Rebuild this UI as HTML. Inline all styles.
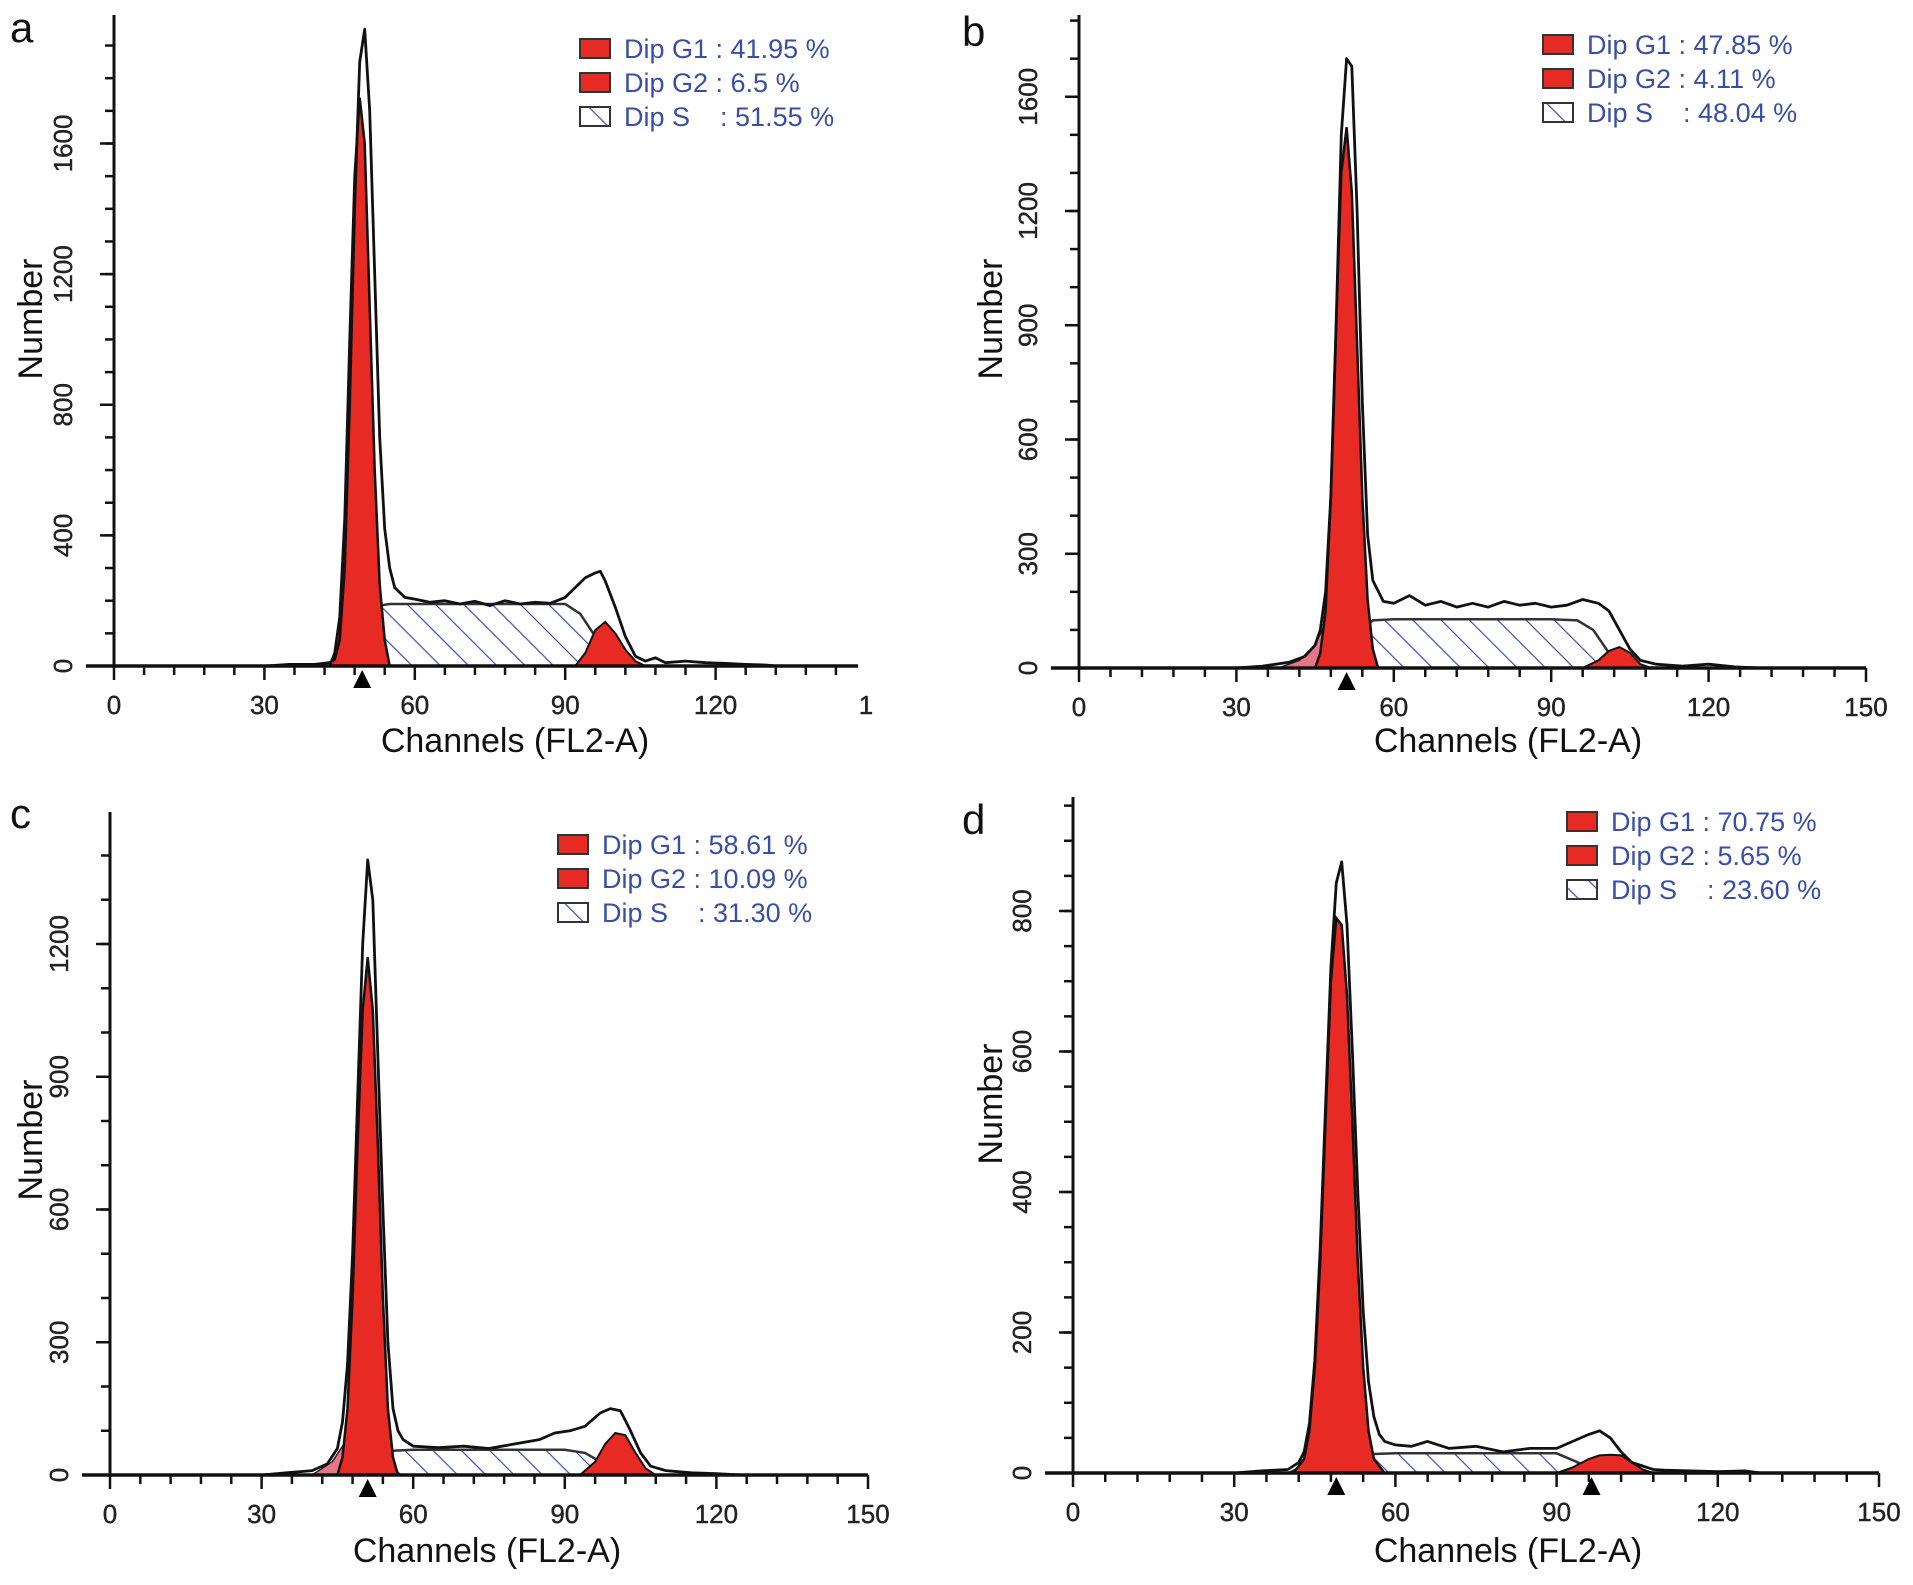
<!DOCTYPE html>
<html><head><meta charset="utf-8">
<style>
html,body{margin:0;padding:0;background:#fff;}
svg{display:block;}
text{font-family:"Liberation Sans",Arial,sans-serif;}
</style></head>
<body>
<svg id="fig" width="1913" height="1585" viewBox="0 0 1913 1585" xmlns="http://www.w3.org/2000/svg">
<defs>
<pattern id="hatch" patternUnits="userSpaceOnUse" width="20" height="20" patternTransform="rotate(-45)">
<rect width="20" height="20" fill="#fff"/>
<line x1="0" y1="0" x2="0" y2="20" stroke="#3d4fb0" stroke-width="2.4"/>
</pattern>
</defs>
</svg>
<script>
// ---- Panel a data ----
const aTotalX=[30,35,40,43,44,45,46,47,48,49,50,51,52,53,54,55,56,58,60,63,66,69,72,75,78,81,84,87,90,92,94,96,97,98,100,102,104,106,108,110,114,118,122,126,130,132];
const aTotalY=[0,5,5,10,20,80,300,800,1400,1850,1950,1700,1200,700,420,300,240,210,205,195,200,190,198,185,200,190,195,192,210,240,270,285,290,260,180,90,30,15,25,10,15,10,8,5,3,0];
const aG1X=[43,44,45,46,47,48,49,50,51,52,53,54,55];
const aG1Y=[0,40,150,450,1000,1500,1740,1600,1100,600,250,80,0];
const aSX=[45,47,50,53,55,60,70,80,90,93,96,99,102];
const aSY=[0,40,110,185,190,190,190,190,190,160,90,25,0];
const aG2X=[92,94,96,98,100,102,104,106];
const aG2Y=[0,40,110,135,100,50,15,0];
const aTicks=[0,400,800,1200,1600];
const aTickLabels=["0","400","800","1200","1600"];
const aXLabels=["0","30","60","90","120","1"];
const aLegend=["Dip G1 : 41.95 %","Dip G2 : 6.5 %","Dip S    : 51.55 %"];
const aMarkers=[49.5];
// ---- Panel b data ----
const bTotalX=[30,35,40,43,45,46,47,48,49,50,51,52,53,54,55,56,58,60,63,66,69,72,75,78,81,84,87,90,93,96,99,101,103,105,107,110,115,120,125,130];
const bTotalY=[0,5,15,30,60,100,200,450,900,1400,1600,1580,1200,700,350,230,175,170,190,165,175,160,170,160,175,165,170,160,165,180,170,150,100,50,20,10,5,10,3,0];
const bG1X=[45,46,47,48,49,50,51,52,53,54,55,56,57];
const bG1Y=[0,40,150,450,900,1300,1420,1250,850,450,180,50,0];
const bDebX=[38,42,45,47,48,49,50,51,52];
const bDebY=[0,20,60,120,150,140,90,30,0];
const bSX=[48,51,54,56,60,70,80,90,95,98,101,104];
const bSY=[0,40,100,125,128,128,128,128,125,100,40,0];
const bG2X=[96,99,101,103,105,107,109];
const bG2Y=[0,20,45,55,40,10,0];
const bTicks=[0,300,600,900,1200,1500];
const bTickLabels=["0","300","600","900","1200","1600"];
const bXLabels=["0","30","60","90","120","150"];
const bLegend=["Dip G1 : 47.85 %","Dip G2 : 4.11 %","Dip S    : 48.04 %"];
const bMarkers=[51];
// ---- Panel c data ----
const cTotalX=[30,35,40,43,45,46,47,48,49,50,51,52,53,54,55,56,57,58,60,65,70,75,80,85,88,91,94,97,99,101,103,105,107,110,115,120,125];
const cTotalY=[0,5,10,25,60,120,250,500,850,1200,1390,1300,950,600,300,150,100,80,65,62,65,60,70,80,95,100,110,140,150,145,100,50,20,10,5,3,0];
const cG1X=[45,46,47,48,49,50,51,52,53,54,55,56,57];
const cG1Y=[0,40,150,400,750,1050,1170,1050,750,400,150,40,0];
const cDebX=[40,44,46,47,48,49,50,51];
const cDebY=[0,30,65,75,70,50,20,0];
const cSX=[47,50,53,56,60,70,80,90,94,97,100];
const cSY=[0,15,40,55,57,57,57,57,50,30,0];
const cG2X=[93,96,98,100,102,104,106,108];
const cG2Y=[0,30,70,95,90,50,15,0];
const cTicks=[0,300,600,900,1200];
const cTickLabels=["0","300","600","900","1200"];
const cXLabels=["0","30","60","90","120","150"];
const cLegend=["Dip G1 : 58.61 %","Dip G2 : 10.09 %","Dip S    : 31.30 %"];
const cMarkers=[51];
// ---- Panel d data ----
const dTotalX=[30,35,40,42,43,44,45,46,47,48,49,50,51,52,53,54,55,56,57,58,60,63,66,70,75,80,85,90,93,96,98,100,102,104,106,108,110,115,120,125,128];
const dTotalY=[0,3,5,15,30,70,160,320,520,720,840,870,780,600,400,230,130,80,55,45,40,38,45,35,38,30,35,35,45,55,60,50,30,15,10,5,4,3,2,3,0];
const dG1X=[41,43,44,45,46,47,48,49,50,51,52,53,54,55,56,58];
const dG1Y=[0,20,60,150,300,500,700,790,780,680,500,300,150,60,20,0];
const dDebX=[40,43,45,46,47,48,50,52];
const dDebY=[0,12,22,25,24,18,5,0];
const dSX=[45,50,53,56,60,70,80,90,94,97];
const dSY=[0,10,20,27,28,28,28,28,15,0];
const dG2X=[90,93,96,98,100,102,104,106,108];
const dG2Y=[0,8,20,25,26,25,15,5,0];
const dTicks=[0,200,400,600,800];
const dTickLabels=["0","200","400","600","800"];
const dXLabels=["0","30","60","90","120","150"];
const dLegend=["Dip G1 : 70.75 %","Dip G2 : 5.65 %","Dip S    : 23.60 %"];
const dMarkers=[49,96.5];

const NS="http://www.w3.org/2000/svg";
const svg=document.getElementById('fig');
function mk(tag,attrs,parent){const e=document.createElementNS(NS,tag);for(const k in attrs)e.setAttribute(k,attrs[k]);(parent||svg).appendChild(e);return e;}

const panels=[
 {id:'a',letter:'a',lx:10,ly:42,x0:114,xEnd:858,x150:866,y0:666,top:15,vTop:1600,yTop:143.5,minorY:100,
  total:[aTotalX,aTotalY],g1:[aG1X,aG1Y],deb:null,s:[aSX,aSY],g2:[aG2X,aG2Y],ticks:aTicks,tl:aTickLabels,xl:aXLabels,leg:aLegend,mk:aMarkers,
  legX:580,legY:49,title:[515,752],num:[30,319]},
 {id:'b',letter:'b',lx:962,ly:46,x0:1079,xEnd:1866,x150:1866,y0:668,top:15,vTop:1200,yTop:211,minorY:100,
  total:[bTotalX,bTotalY],g1:[bG1X,bG1Y],deb:[bDebX,bDebY],s:[bSX,bSY],g2:[bG2X,bG2Y],ticks:bTicks,tl:bTickLabels,xl:bXLabels,leg:bLegend,mk:bMarkers,
  legX:1543,legY:45,title:[1508,752],num:[990,319]},
 {id:'c',letter:'c',lx:10,ly:828,x0:110,xEnd:868,x150:868,y0:1475,top:812,vTop:1200,yTop:944,minorY:100,
  total:[cTotalX,cTotalY],g1:[cG1X,cG1Y],deb:[cDebX,cDebY],s:[cSX,cSY],g2:[cG2X,cG2Y],ticks:cTicks,tl:cTickLabels,xl:cXLabels,leg:cLegend,mk:cMarkers,
  legX:558,legY:845,title:[487,1562],num:[30,1140]},
 {id:'d',letter:'d',lx:962,ly:834,x0:1073,xEnd:1879,x150:1879,y0:1473,top:797,vTop:800,yTop:911,minorY:50,
  total:[dTotalX,dTotalY],g1:[dG1X,dG1Y],deb:[dDebX,dDebY],s:[dSX,dSY],g2:[dG2X,dG2Y],ticks:dTicks,tl:dTickLabels,xl:dXLabels,leg:dLegend,mk:dMarkers,
  legX:1567,legY:822,title:[1508,1562],num:[990,1104]}
];

panels.forEach(p=>{
  const g=mk('g',{});
  
  
  const xs=c=>p.x0+c*(p.x150-p.x0)/150;
  const ys=v=>p.y0-v*(p.y0-p.yTop)/p.vTop;
  const pts=(X,Y)=>X.map((x,i)=>xs(x).toFixed(1)+','+ys(Y[i]).toFixed(1)).join(' ');
  const area=(X,Y)=>'M'+xs(X[0]).toFixed(1)+','+ys(0).toFixed(1)+' L'+pts(X,Y)+' L'+xs(X[X.length-1]).toFixed(1)+','+ys(0).toFixed(1)+' Z';

  if(p.deb){
    const e=mk('path',{d:area(p.deb[0],p.deb[1]),fill:'#e25d72','fill-opacity':'0.85',stroke:'#222','stroke-width':'1.5'},g);
    
    
  }
  const s=mk('path',{d:area(p.s[0],p.s[1]),fill:'url(#hatch)',stroke:'#333','stroke-width':'2.5'},g);
  
  
  const g1=mk('path',{d:area(p.g1[0],p.g1[1]),fill:'#e82a24',stroke:'#111','stroke-width':'2.5'},g);
  
  
  const g2=mk('path',{d:area(p.g2[0],p.g2[1]),fill:'#e82a24',stroke:'#111','stroke-width':'2'},g);
  
  
  const t=mk('polyline',{points:pts(p.total[0],p.total[1]),fill:'none',stroke:'#111','stroke-width':'2.8','stroke-linejoin':'round'},g);
  
  

  const ya=mk('line',{x1:p.x0,y1:p.top,x2:p.x0,y2:p.y0+2,stroke:'#111','stroke-width':'3'},g);
  
  
  const xa=mk('line',{x1:p.x0-28,y1:p.y0,x2:p.xEnd,y2:p.y0,stroke:'#111','stroke-width':'3.5'},g);
  
  
  for(let c=0;c<=150;c+=6){
    const major=c%30===0;
    if(xs(c)>p.xEnd+1)continue;
    mk('line',{x1:xs(c),y1:p.y0,x2:xs(c),y2:p.y0+(major?14:9),stroke:'#111','stroke-width':'2.5'},g);
  }
  p.xl.forEach((lab,i)=>{
    const e=mk('text',{x:xs(i*30),y:p.y0+48,'font-size':'26','text-anchor':'middle',fill:'#222',stroke:'#222','stroke-width':'0.4'},g);
    e.textContent=lab;
    
    
  });
  const vmax=(p.y0-p.top)*p.vTop/(p.y0-p.yTop);
  for(let v=0;v<=vmax;v+=p.minorY){
    mk('line',{x1:p.x0-9,y1:ys(v),x2:p.x0,y2:ys(v),stroke:'#111','stroke-width':'2.5'},g);
  }
  p.ticks.forEach((v,i)=>{
    mk('line',{x1:p.x0-14,y1:ys(v),x2:p.x0,y2:ys(v),stroke:'#111','stroke-width':'2.5'},g);
    const e=mk('text',{x:0,y:0,'font-size':'26','text-anchor':'middle',fill:'#222',stroke:'#222','stroke-width':'0.4',transform:'translate('+(p.x0-42)+','+ys(v)+') rotate(-90)'},g);
    e.textContent=p.tl[i];
    
    
  });
  p.mk.forEach(c=>{
    const x=xs(c),y=p.y0+4;
    const e=mk('polygon',{points:x+','+y+' '+(x-9)+','+(y+18)+' '+(x+9)+','+(y+18),fill:'#000'},g);
    
    
  });
  const tt=mk('text',{x:p.title[0],y:p.title[1],'font-size':'34','text-anchor':'middle',fill:'#111'},g);
  tt.textContent='Channels (FL2-A)';
  
  
  const nt=mk('text',{x:0,y:0,'font-size':'34','text-anchor':'middle',fill:'#111',transform:'translate('+(p.num[0]+12)+','+p.num[1]+') rotate(-90)'},g);
  nt.textContent='Number';
  
  
  const lt=mk('text',{x:p.lx,y:p.ly,'font-size':'42',fill:'#111'},g);
  lt.textContent=p.letter;
  
  
  p.leg.forEach((lab,i)=>{
    const cy=p.legY+i*34;
    const box=mk('rect',{x:p.legX,y:cy-10,width:30,height:19,fill:i<2?'#e82a24':'url(#hatch)',stroke:'#333','stroke-width':'2'},g);
    
    
    const e=mk('text',{x:p.legX+44,y:cy+9,'font-size':'27',fill:'#3a4ea8'},g);
    e.setAttribute('style','white-space:pre');
    e.textContent=lab;
    
    
  });
});
</script>
</body></html>
